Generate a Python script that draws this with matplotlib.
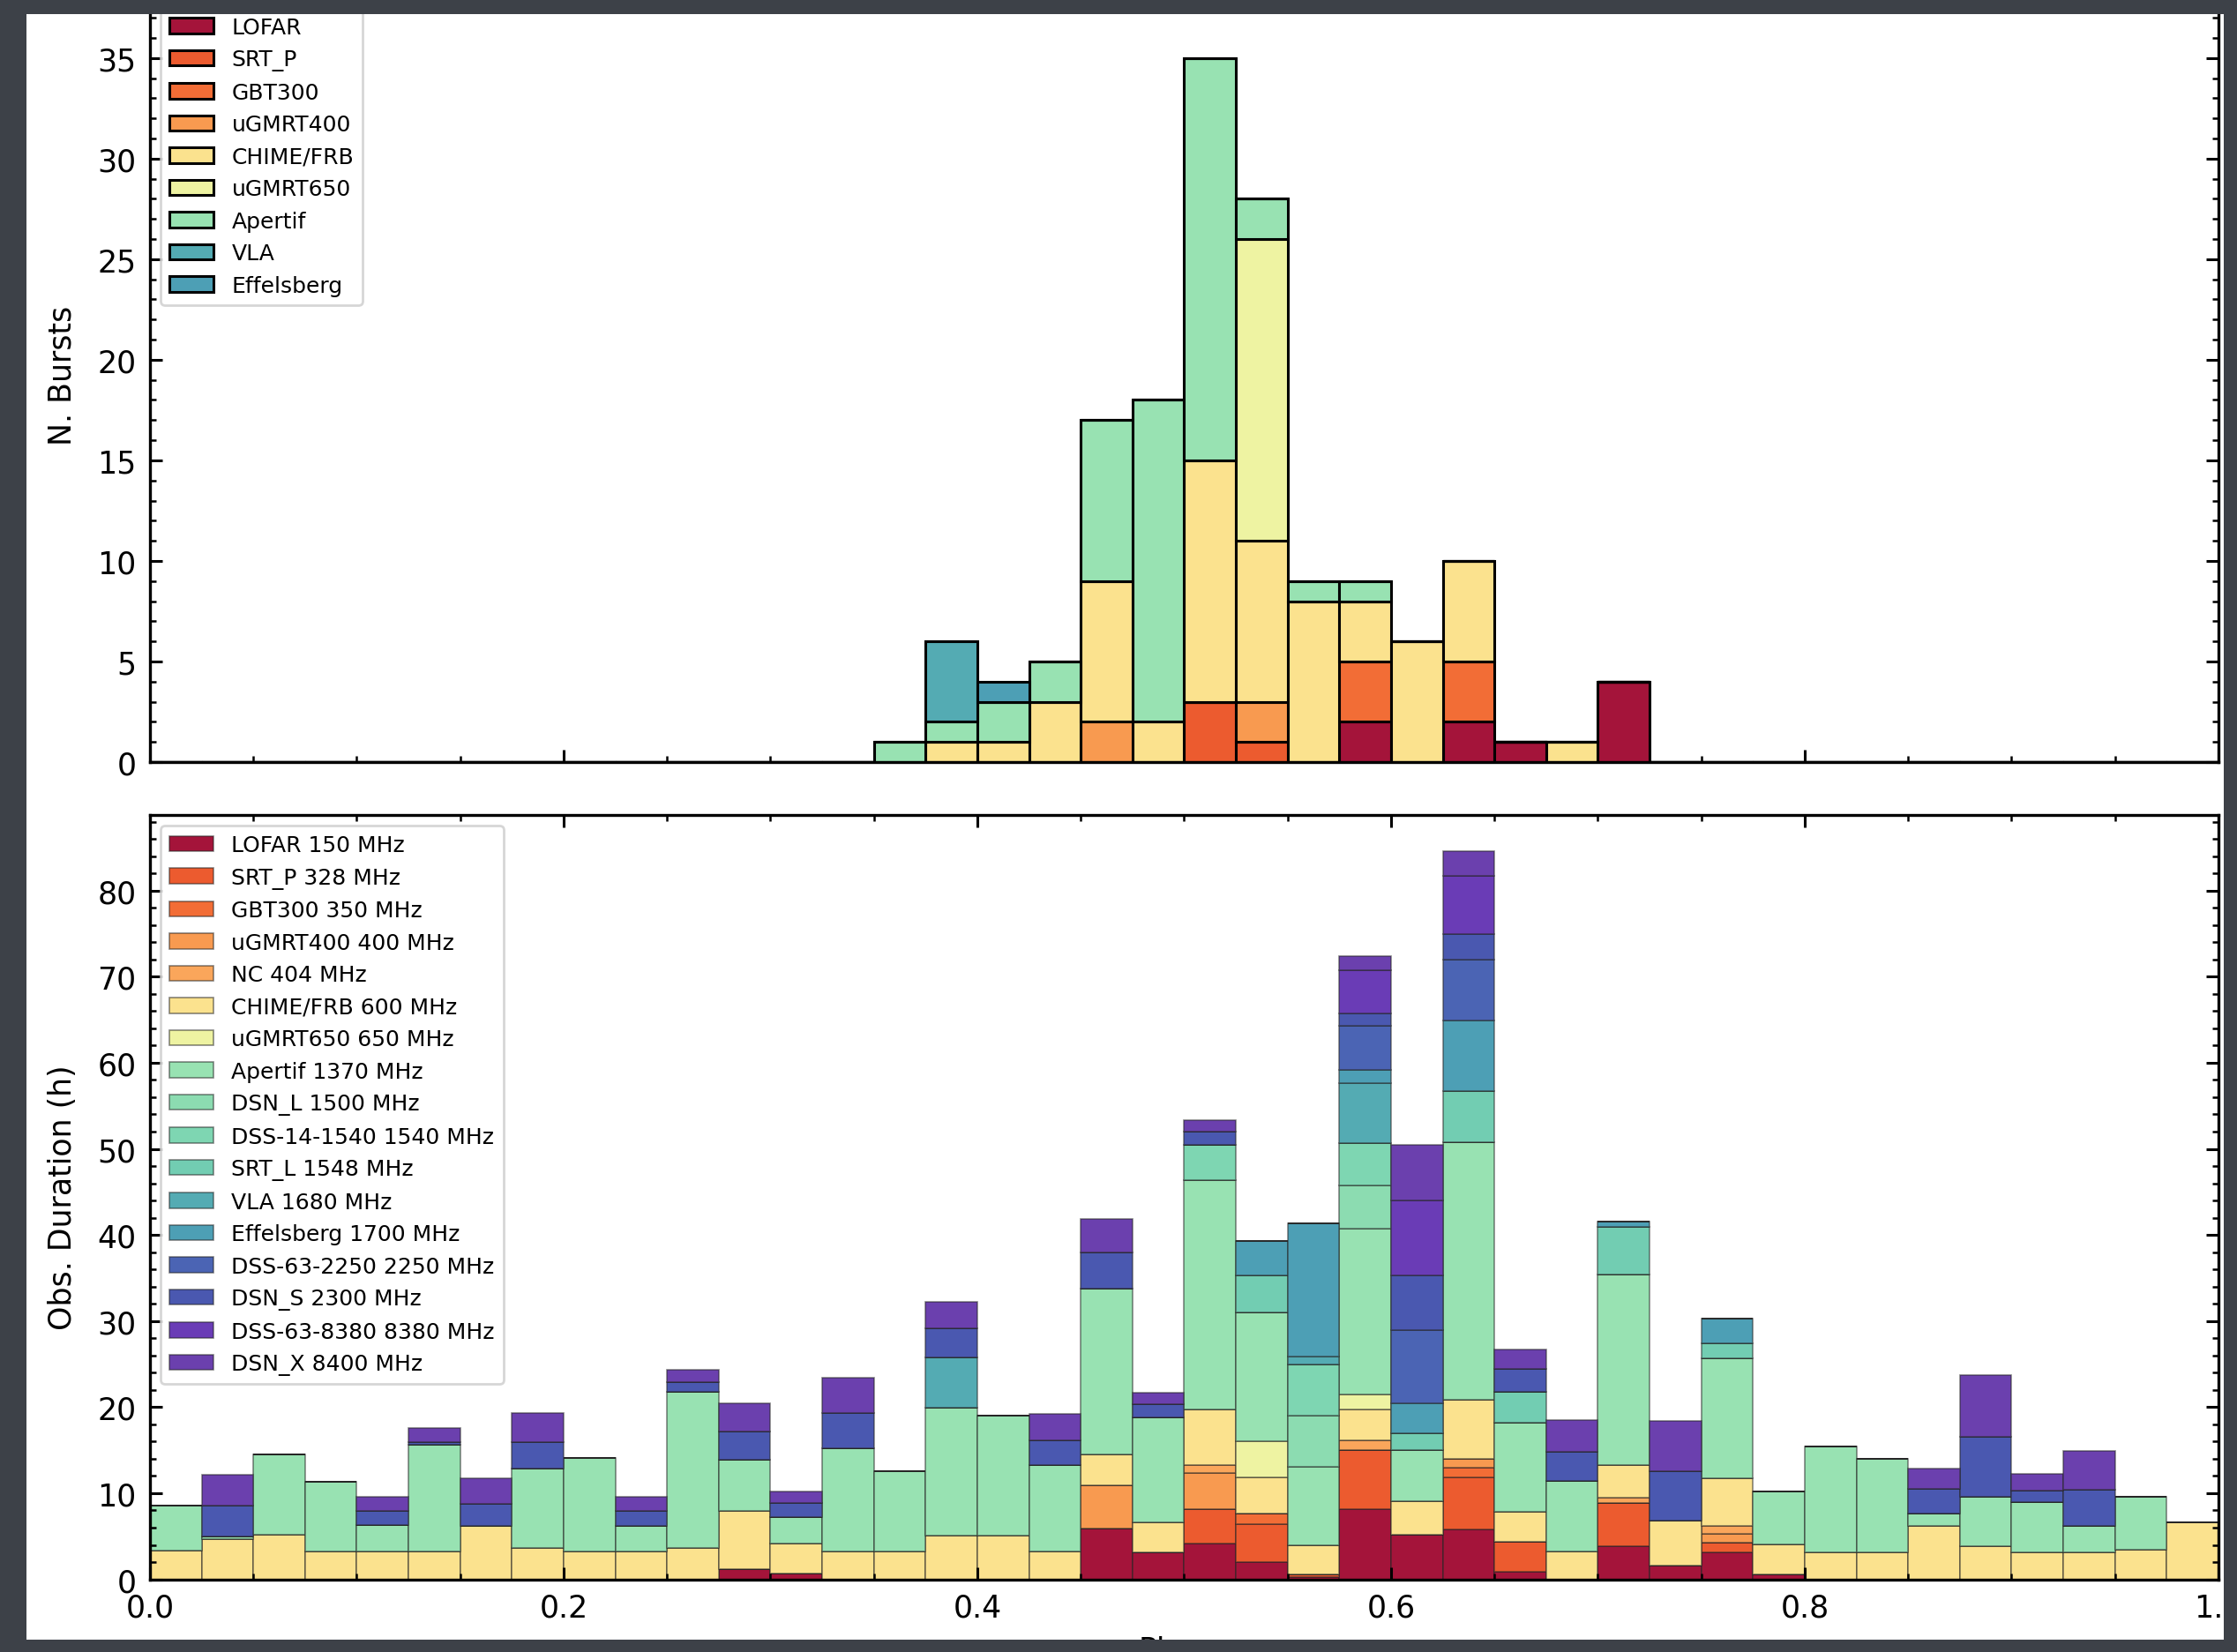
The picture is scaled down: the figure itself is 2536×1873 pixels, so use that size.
import matplotlib.pyplot as plt
from matplotlib.patches import Rectangle
from matplotlib.ticker import AutoMinorLocator, MultipleLocator
import numpy as np

BIN_WIDTH = 0.025
phase_edges = np.arange(0, 1.0 + BIN_WIDTH / 2, BIN_WIDTH)

# ---- burst counts per phase bin (40 bins of 0.025) ----
top_names = ['LOFAR', 'SRT_P', 'GBT300', 'uGMRT400', 'CHIME/FRB',
             'uGMRT650', 'Apertif', 'VLA', 'Effelsberg']

n_lofar = [0, 0, 0, 0, 0, 0, 0, 0, 0, 0,
           0, 0, 0, 0, 0, 0, 0, 0, 0, 0,
           0, 0, 0, 2, 0, 2, 1, 0, 4, 0,
           0, 0, 0, 0, 0, 0, 0, 0, 0, 0]
n_srt_p = [0, 0, 0, 0, 0, 0, 0, 0, 0, 0,
           0, 0, 0, 0, 0, 0, 0, 0, 0, 0,
           3, 1, 0, 0, 0, 0, 0, 0, 0, 0,
           0, 0, 0, 0, 0, 0, 0, 0, 0, 0]
n_gbt300 = [0, 0, 0, 0, 0, 0, 0, 0, 0, 0,
            0, 0, 0, 0, 0, 0, 0, 0, 0, 0,
            0, 0, 0, 3, 0, 3, 0, 0, 0, 0,
            0, 0, 0, 0, 0, 0, 0, 0, 0, 0]
n_ugmrt400 = [0, 0, 0, 0, 0, 0, 0, 0, 0, 0,
              0, 0, 0, 0, 0, 0, 0, 0, 2, 0,
              0, 2, 0, 0, 0, 0, 0, 0, 0, 0,
              0, 0, 0, 0, 0, 0, 0, 0, 0, 0]
n_chime = [0, 0, 0, 0, 0, 0, 0, 0, 0, 0,
           0, 0, 0, 0, 0, 1, 1, 3, 7, 2,
           12, 8, 8, 3, 6, 5, 0, 1, 0, 0,
           0, 0, 0, 0, 0, 0, 0, 0, 0, 0]
n_ugmrt650 = [0, 0, 0, 0, 0, 0, 0, 0, 0, 0,
              0, 0, 0, 0, 0, 0, 0, 0, 0, 0,
              0, 15, 0, 0, 0, 0, 0, 0, 0, 0,
              0, 0, 0, 0, 0, 0, 0, 0, 0, 0]
n_apertif = [0, 0, 0, 0, 0, 0, 0, 0, 0, 0,
             0, 0, 0, 0, 1, 1, 2, 2, 8, 16,
             20, 2, 1, 1, 0, 0, 0, 0, 0, 0,
             0, 0, 0, 0, 0, 0, 0, 0, 0, 0]
n_vla = [0, 0, 0, 0, 0, 0, 0, 0, 0, 0,
         0, 0, 0, 0, 0, 4, 0, 0, 0, 0,
         0, 0, 0, 0, 0, 0, 0, 0, 0, 0,
         0, 0, 0, 0, 0, 0, 0, 0, 0, 0]
n_effelsberg = [0, 0, 0, 0, 0, 0, 0, 0, 0, 0,
                0, 0, 0, 0, 0, 0, 1, 0, 0, 0,
                0, 0, 0, 0, 0, 0, 0, 0, 0, 0,
                0, 0, 0, 0, 0, 0, 0, 0, 0, 0]

top_counts = [n_lofar, n_srt_p, n_gbt300, n_ugmrt400, n_chime,
              n_ugmrt650, n_apertif, n_vla, n_effelsberg]
top_colors = ['#a4143a', '#ec5b2f', '#f26d36', '#f89a50', '#fbe28e',
              '#eef3a2', '#98e2b2', '#54abb3', '#4d9fb5']

# ---- observing hours per phase bin ----
bot_names = ['LOFAR 150 MHz', 'SRT_P 328 MHz', 'GBT300 350 MHz',
             'uGMRT400 400 MHz', 'NC 404 MHz', 'CHIME/FRB 600 MHz',
             'uGMRT650 650 MHz', 'Apertif 1370 MHz', 'DSN_L 1500 MHz',
             'DSS-14-1540 1540 MHz', 'SRT_L 1548 MHz', 'VLA 1680 MHz',
             'Effelsberg 1700 MHz', 'DSS-63-2250 2250 MHz', 'DSN_S 2300 MHz',
             'DSS-63-8380 8380 MHz', 'DSN_X 8400 MHz']

h_lofar = [0, 0, 0, 0, 0, 0, 0, 0, 0, 0,
           0, 1.2, 0.7, 0, 0, 0, 0, 0, 5.9, 3.1,
           4.2, 2.0, 0.3, 8.1, 5.2, 5.8, 0.9, 0, 3.8, 1.6,
           3.1, 0.6, 0, 0, 0, 0, 0, 0, 0, 0]
h_srt_p = [0, 0, 0, 0, 0, 0, 0, 0, 0, 0,
           0, 0, 0, 0, 0, 0, 0, 0, 0, 0,
           3.9, 4.4, 0.3, 6.9, 0, 6.0, 3.5, 0, 5.1, 0,
           1.2, 0, 0, 0, 0, 0, 0, 0, 0, 0]
h_gbt300 = [0, 0, 0, 0, 0, 0, 0, 0, 0, 0,
            0, 0, 0, 0, 0, 0, 0, 0, 0, 0,
            0, 1.2, 0, 0, 0, 1.2, 0, 0, 0, 0,
            0, 0, 0, 0, 0, 0, 0, 0, 0, 0]
h_ugmrt400 = [0, 0, 0, 0, 0, 0, 0, 0, 0, 0,
              0, 0, 0, 0, 0, 0, 0, 0, 5.0, 0,
              4.2, 0, 0, 0, 0, 1.0, 0, 0, 0, 0,
              1.0, 0, 0, 0, 0, 0, 0, 0, 0, 0]
h_nc = [0, 0, 0, 0, 0, 0, 0, 0, 0, 0,
        0, 0, 0, 0, 0, 0, 0, 0, 0, 0,
        1.0, 0, 0, 1.1, 0, 0, 0, 0, 0.6, 0,
        0.9, 0, 0, 0, 0, 0, 0, 0, 0, 0]
h_chime = [3.3, 4.65, 5.2, 3.2, 3.2, 3.2, 6.2, 3.6, 3.2, 3.2,
           3.6, 6.7, 3.5, 3.2, 3.2, 5.05, 5.1, 3.25, 3.6, 3.55,
           6.4, 4.2, 3.3, 3.6, 3.9, 6.9, 3.4, 3.2, 3.8, 5.2,
           5.5, 3.5, 3.1, 3.1, 6.2, 3.8, 3.1, 3.1, 3.4, 6.6]
h_ugmrt650 = [0, 0, 0, 0, 0, 0, 0, 0, 0, 0,
              0, 0, 0, 0, 0, 0, 0, 0, 0, 0,
              0, 4.2, 0, 1.8, 0, 0, 0, 0, 0, 0,
              0, 0, 0, 0, 0, 0, 0, 0, 0, 0]
h_apertif = [5.3, 0.3, 9.3, 8.1, 3.1, 12.4, 0, 9.3, 10.9, 3.0,
             18.2, 6.0, 3.0, 12.0, 9.4, 14.9, 13.9, 10.05, 19.3, 12.15,
             26.7, 15.0, 9.2, 19.2, 5.9, 29.9, 10.4, 8.2, 22.1, 0,
             14.0, 6.1, 12.3, 10.9, 1.4, 5.75, 5.9, 3.1, 6.2, 0]
h_dsn_l = [0, 0, 0, 0, 0, 0, 0, 0, 0, 0,
           0, 0, 0, 0, 0, 0, 0, 0, 0, 0,
           0, 0, 5.9, 5.1, 0, 0, 0, 0, 0, 0,
           0, 0, 0, 0, 0, 0, 0, 0, 0, 0]
h_dss14 = [0, 0, 0, 0, 0, 0, 0, 0, 0, 0,
           0, 0, 0, 0, 0, 0, 0, 0, 0, 0,
           4.1, 0, 6.0, 4.9, 0, 0, 0, 0, 0, 0,
           0, 0, 0, 0, 0, 0, 0, 0, 0, 0]
h_srt_l = [0, 0, 0, 0, 0, 0, 0, 0, 0, 0,
           0, 0, 0, 0, 0, 0, 0, 0, 0, 0,
           0, 4.3, 0, 0, 2.0, 5.9, 3.6, 0, 5.5, 0,
           1.7, 0, 0, 0, 0, 0, 0, 0, 0, 0]
h_vla = [0, 0, 0, 0, 0, 0, 0, 0, 0, 0,
         0, 0, 0, 0, 0, 5.8, 0, 0, 0, 0,
         0, 0, 0.9, 6.9, 0, 0, 0, 0, 0, 0,
         0, 0, 0, 0, 0, 0, 0, 0, 0, 0]
h_effelsberg = [0, 0, 0, 0, 0, 0, 0, 0, 0, 0,
                0, 0, 0, 0, 0, 0, 0, 0, 0, 0,
                0, 4.0, 15.4, 1.6, 3.4, 8.2, 0, 0, 0.6, 0,
                2.9, 0, 0, 0, 0, 0, 0, 0, 0, 0]
h_dss63_2250 = [0, 0, 0, 0, 0, 0, 0, 0, 0, 0,
                0, 0, 0, 0, 0, 0, 0, 0, 0, 0,
                0, 0, 0, 5.1, 8.5, 7.1, 0, 0, 0, 0,
                0, 0, 0, 0, 0, 0, 0, 0, 0, 0]
h_dsn_s = [0, 3.6, 0, 0, 1.6, 0.3, 2.6, 3.0, 0, 1.7,
           1.1, 3.3, 1.7, 4.1, 0, 3.4, 0, 2.8, 4.2, 1.5,
           1.5, 0, 0, 1.4, 6.4, 2.9, 2.6, 3.4, 0, 5.8,
           0, 0, 0, 0, 2.9, 7.05, 1.3, 4.2, 0, 0]
h_dss63_8380 = [0, 0, 0, 0, 0, 0, 0, 0, 0, 0,
                0, 0, 0, 0, 0, 0, 0, 0, 0, 0,
                0, 0, 0, 5.0, 8.7, 6.8, 0, 0, 0, 0,
                0, 0, 0, 0, 0, 0, 0, 0, 0, 0]
h_dsn_x = [0, 3.6, 0, 0, 1.7, 1.7, 2.9, 3.4, 0, 1.65,
           1.4, 3.2, 1.3, 4.1, 0, 3.1, 0, 3.1, 3.9, 1.4,
           1.3, 0, 0, 1.7, 6.5, 2.9, 2.3, 3.7, 0, 5.8,
           0, 0, 0, 0, 2.4, 7.1, 1.9, 4.5, 0, 0]

bot_hours = [h_lofar, h_srt_p, h_gbt300, h_ugmrt400, h_nc, h_chime,
             h_ugmrt650, h_apertif, h_dsn_l, h_dss14, h_srt_l, h_vla,
             h_effelsberg, h_dss63_2250, h_dsn_s, h_dss63_8380, h_dsn_x]
bot_colors = ['#a4143a', '#ec5b2f', '#f26d36', '#f89a50', '#faa65b',
              '#fbe28e', '#eef3a2', '#98e2b2', '#8cdcb1', '#7ed6b2',
              '#72cdb2', '#54abb3', '#4d9fb5', '#4b64b4', '#4a58b0',
              '#6a3cb6', '#6b40ae']


def stacked(ax, layers, colors, names, edge, lw):
    bottom = np.zeros(len(phase_edges) - 1)
    for vals, col, name in zip(layers, colors, names):
        vals = np.asarray(vals, dtype=float)
        ax.bar(phase_edges[:-1], vals, width=BIN_WIDTH, align='edge',
               bottom=bottom, color=col, edgecolor=edge, linewidth=lw,
               label=name)
        bottom += vals


def style(ax):
    ax.set_xlim(0, 1)
    ax.xaxis.set_major_locator(MultipleLocator(0.2))
    ax.xaxis.set_minor_locator(AutoMinorLocator())
    ax.yaxis.set_minor_locator(AutoMinorLocator())
    ax.tick_params(which='both', direction='in', top=True, right=True,
                   labelsize=12.5)
    ax.tick_params(which='major', length=5, width=1.1, pad=5.5)
    ax.tick_params(which='minor', length=2.5, width=0.9)
    for s in ax.spines.values():
        s.set_linewidth(1.2)


fig = plt.figure(figsize=(12.68, 9.37), dpi=200)
fig.patch.set_facecolor('#3d4148')
# white sheet behind the plots
fig.add_artist(Rectangle((0.012, 0.007), 0.982, 0.985,
                         transform=fig.transFigure, facecolor='white',
                         edgecolor='none', zorder=-1))

ax_top = fig.add_axes([0.067, 0.5384, 0.9247, 0.4686])
ax_bot = fig.add_axes([0.067, 0.044, 0.9247, 0.4625])

stacked(ax_top, top_counts, top_colors, top_names, 'black', 1.1)
stacked(ax_bot, bot_hours, bot_colors, bot_names, (0.15, 0.15, 0.15, 0.55), 0.6)

style(ax_top)
style(ax_bot)

ax_top.set_ylim(0, 38.5)
ax_top.yaxis.set_major_locator(MultipleLocator(5))
ax_top.tick_params(labelbottom=False)
ax_top.set_ylabel('N. Bursts', fontsize=12.5)
ax_top.yaxis.set_label_coords(-0.035, 0.5)
ax_top.legend(loc='upper left', bbox_to_anchor=(0, 0.988), fontsize=9)

ax_bot.set_ylim(0, 88.8)
ax_bot.yaxis.set_major_locator(MultipleLocator(10))
ax_bot.set_ylabel('Obs. Duration (h)', fontsize=12.5)
ax_bot.yaxis.set_label_coords(-0.035, 0.5)
ax_bot.set_xlabel('Phase', fontsize=12.5, labelpad=5)
ax_bot.legend(loc='upper left', fontsize=9)

# dark border over the sheet edges
dark = '#3d4148'
for x, y, w, h in [(0, 0.991, 1, 0.009), (0, 0, 1, 0.0075),
                   (0, 0, 0.012, 1), (0.9945, 0, 0.0055, 1)]:
    fig.add_artist(Rectangle((x, y), w, h, transform=fig.transFigure,
                             facecolor=dark, edgecolor='none', zorder=10))

fig.savefig('out.png', dpi=200, facecolor=fig.get_facecolor())
